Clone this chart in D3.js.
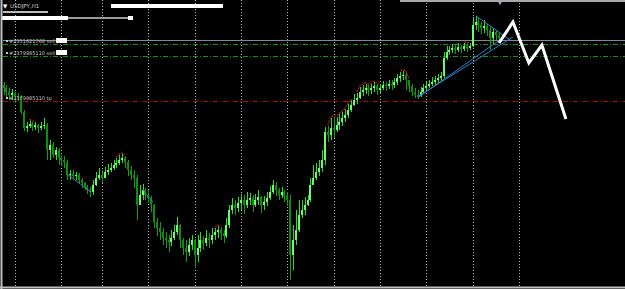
<!DOCTYPE html>
<html>
<head>
<meta charset="utf-8">
<script src="https://cdn.jsdelivr.net/npm/d3@7"></script>
<style>
  html, body { margin: 0; padding: 0; background: #000; overflow: hidden; }
</style>
</head>
<body>
<div id="chart"></div>
<script>
// USDJPY H1 candles, [open, high, low, close]
const bars = [
  [151.05,151.08,150.95,151.02],[151.02,151.05,150.93,150.98],[150.98,151.02,150.90,150.95],[150.95,151.01,150.90,150.97],
  [150.97,150.98,150.87,150.94],[150.94,150.97,150.89,150.93],[150.93,150.95,150.76,150.78],[150.78,150.80,150.59,150.62],
  [150.62,150.68,150.58,150.64],[150.64,150.70,150.62,150.66],[150.66,150.68,150.59,150.63],[150.63,150.68,150.60,150.65],
  [150.65,150.66,150.57,150.62],[150.62,150.68,150.60,150.64],[150.64,150.72,150.61,150.65],[150.65,150.67,150.30,150.40],
  [150.40,150.50,150.30,150.45],[150.45,150.48,150.32,150.35],[150.35,150.43,150.30,150.40],[150.40,150.42,150.25,150.32],
  [150.32,150.35,150.24,150.30],[150.30,150.34,150.22,150.28],[150.28,150.30,150.10,150.15],[150.15,150.20,150.10,150.16],
  [150.16,150.20,150.11,150.14],[150.14,150.18,150.10,150.15],[150.15,150.17,150.06,150.10],[150.10,150.12,150.02,150.07],
  [150.07,150.08,150.00,150.03],[150.03,150.05,149.96,150.00],[150.00,150.03,149.93,149.98],[149.98,150.10,149.95,150.05],
  [150.05,150.18,150.04,150.12],[150.12,150.22,150.10,150.15],[150.15,150.20,150.07,150.12],[150.12,150.23,150.12,150.18],
  [150.18,150.26,150.15,150.20],[150.20,150.27,150.18,150.22],[150.22,150.30,150.20,150.25],[150.25,150.32,150.22,150.27],
  [150.27,150.35,150.25,150.30],[150.30,150.36,150.27,150.32],[150.32,150.34,150.22,150.28],[150.28,150.30,150.14,150.20],
  [150.20,150.24,150.10,150.15],[150.15,150.20,150.02,150.12],[150.12,150.15,149.70,149.85],[149.85,150.05,149.85,149.95],
  [149.95,150.06,149.90,150.00],[150.00,150.02,149.90,149.95],[149.95,150.00,149.87,149.92],[149.92,149.94,149.78,149.85],
  [149.85,149.86,149.62,149.68],[149.68,149.72,149.54,149.62],[149.62,149.68,149.50,149.58],[149.58,149.62,149.45,149.52],
  [149.52,149.58,149.42,149.50],[149.50,149.55,149.38,149.48],[149.48,149.60,149.44,149.52],[149.52,149.65,149.50,149.58],
  [149.58,149.73,149.55,149.65],[149.65,149.66,149.42,149.50],[149.50,149.52,149.35,149.42],[149.42,149.50,149.28,149.38],
  [149.38,149.52,149.34,149.45],[149.45,149.55,149.40,149.50],[149.50,149.51,149.22,149.35],[149.35,149.55,149.28,149.42],
  [149.42,149.58,149.38,149.50],[149.50,149.54,149.40,149.47],[149.47,149.60,149.44,149.52],[149.52,149.57,149.42,149.50],
  [149.50,149.62,149.46,149.55],[149.55,149.62,149.50,149.58],[149.58,149.64,149.52,149.60],[149.60,149.63,149.50,149.57],
  [149.57,149.60,149.47,149.54],[149.54,149.72,149.52,149.65],[149.65,149.85,149.62,149.80],[149.80,149.92,149.76,149.85],
  [149.85,149.90,149.75,149.82],[149.82,149.93,149.78,149.87],[149.87,149.96,149.80,149.90],[149.90,149.95,149.76,149.85],
  [149.85,149.98,149.82,149.90],[149.90,149.97,149.85,149.92],[149.92,149.95,149.78,149.85],[149.85,149.96,149.83,149.90],
  [149.90,150.00,149.85,149.93],[149.93,149.94,149.77,149.85],[149.85,149.94,149.80,149.88],[149.88,149.98,149.84,149.92],
  [149.92,150.04,149.90,149.98],[149.98,150.10,149.96,150.05],[150.05,150.08,149.94,150.00],[150.00,150.02,149.90,149.95],
  [149.95,150.03,149.92,149.98],[149.98,150.00,149.88,149.94],[149.94,149.98,149.84,149.90],[149.90,149.95,149.10,149.35],
  [149.35,149.65,149.20,149.50],[149.50,149.80,149.45,149.60],[149.60,149.90,149.58,149.75],[149.75,149.90,149.72,149.80],
  [149.80,149.93,149.75,149.85],[149.85,149.95,149.84,149.90],[149.90,150.12,149.88,150.05],[150.05,150.25,150.05,150.12],
  [150.12,150.27,150.10,150.18],[150.18,150.30,150.14,150.22],[150.22,150.40,150.18,150.30],[150.30,150.63,150.25,150.58],
  [150.58,150.64,150.48,150.55],[150.55,150.72,150.50,150.62],[150.62,150.73,150.52,150.60],[150.60,150.73,150.58,150.65],
  [150.65,150.76,150.60,150.68],[150.68,150.78,150.64,150.72],[150.72,150.81,150.68,150.75],[150.75,150.86,150.72,150.80],
  [150.80,150.90,150.78,150.85],[150.85,150.96,150.84,150.90],[150.90,150.97,150.86,150.92],[150.92,151.03,150.91,150.98],
  [150.98,151.05,150.94,151.00],[151.00,151.06,150.96,151.02],[151.02,151.05,150.94,151.00],[151.00,151.06,150.96,151.02],
  [151.02,151.08,150.98,151.04],[151.04,151.06,150.95,151.00],[151.00,151.06,150.96,151.02],[151.02,151.09,151.00,151.05],
  [151.05,151.08,150.99,151.04],[151.04,151.10,151.01,151.06],[151.06,151.10,151.00,151.05],[151.05,151.12,151.02,151.08],
  [151.08,151.16,151.05,151.12],[151.12,151.18,151.08,151.14],[151.14,151.19,151.10,151.15],[151.15,151.18,151.00,151.10],
  [151.10,151.10,150.98,151.04],[151.04,151.06,150.94,150.98],[150.98,151.02,150.92,150.95],[150.95,151.00,150.91,150.94],
  [150.94,151.03,150.93,150.98],[150.98,151.06,150.96,151.02],[151.02,151.08,150.99,151.04],[151.04,151.10,151.02,151.06],
  [151.06,151.13,151.04,151.08],[151.08,151.14,151.05,151.10],[151.10,151.16,151.07,151.12],[151.12,151.18,151.09,151.14],
  [151.14,151.38,151.12,151.32],[151.32,151.44,151.30,151.38],[151.38,151.44,151.35,151.40],[151.40,151.46,151.37,151.42],
  [151.42,151.45,151.36,151.40],[151.40,151.47,151.38,151.43],[151.43,151.45,151.37,151.41],[151.41,151.47,151.39,151.44],
  [151.44,151.46,151.38,151.42],[151.42,151.47,151.40,151.44],[151.44,151.73,151.43,151.65],[151.65,151.74,151.60,151.68],
  [151.68,151.72,151.58,151.65],[151.65,151.68,151.56,151.62],[151.62,151.70,151.57,151.64],[151.64,151.66,151.54,151.60],
  [151.60,151.64,151.40,151.52],[151.52,151.62,151.45,151.58],[151.58,151.60,151.50,151.55],[151.55,151.58,151.47,151.52]
];

// bar index where each vertical grid (period separator) is drawn
const gridBars = [4, 20, 34, 50, 66, 82, 98, 114, 130, 146, 162, 178];

// order lines
const orderPrices = [151.50, 151.46, 151.34, 150.89];
const orderLabels = ["#2351621768 sell", "", "#2379985110 sell", "#2379985110 tp"];

// trendlines drawn by hand, [barIndex, price] pairs
const trendLines = [
  [[142.8, 150.93], [175.9, 151.53]],
  [[143.4, 150.93], [172.8, 151.53]],
  [[163.2, 151.74], [174.9, 151.50]],
  [[22.3, 150.15], [30.3, 149.98]],
  [[48.2, 150.00], [51.6, 149.88]]
];

// short red marks along the highs (bar index ranges)
const highMarks = [[9, 11], [39, 42], [73, 75], [112, 120], [122, 130], [137, 140], [159, 161]];

// projected path (white zigzag)
const projIdx = [171.1, 175.9, 181.4, 185.9, 194.2];
const projPrice = [151.47, 151.68, 151.27, 151.45, 150.71];

const width = 625, height = 289;
const svg = d3.select("#chart").append("svg")
    .attr("width", width)
    .attr("height", height)
    .style("display", "block")
    .style("background", "#000");

const x = d3.scaleLinear().domain([0, 178]).range([3.5, 519]);
const y = d3.scaleLinear().domain([149.03, 151.90]).range([287, 0]);

// vertical grid
svg.append("g").selectAll("line")
    .data(gridBars)
    .join("line")
    .attr("x1", d => Math.round(x(d)) + 0.5)
    .attr("x2", d => Math.round(x(d)) + 0.5)
    .attr("y1", 0)
    .attr("y2", 287)
    .attr("stroke", "#b8b8b8")
    .attr("stroke-width", 1)
    .attr("stroke-dasharray", "1,2");

// order levels
const levelStyle = [
  { color: "#7d8b9c", dash: null },
  { color: "#0a9a0a", dash: "5,2,1,2" },
  { color: "#0a9a0a", dash: "5,2,1,2" },
  { color: "#a81010", dash: "5,2,1,2" }
];
svg.append("g").selectAll("line")
    .data(orderPrices)
    .join("line")
    .attr("x1", 3)
    .attr("x2", width)
    .attr("y1", d => Math.round(y(d)) + 0.5)
    .attr("y2", d => Math.round(y(d)) + 0.5)
    .attr("stroke", (d, i) => levelStyle[i].color)
    .attr("stroke-width", 1)
    .attr("stroke-dasharray", (d, i) => levelStyle[i].dash);

// candles
const candles = svg.append("g").attr("shape-rendering", "crispEdges");
candles.selectAll("line")
    .data(bars)
    .join("line")
    .attr("x1", (d, i) => Math.round(x(i)) + 0.5)
    .attr("x2", (d, i) => Math.round(x(i)) + 0.5)
    .attr("y1", d => y(d[1]))
    .attr("y2", d => y(d[2]))
    .attr("stroke", d => d[3] >= d[0] ? "#22e022" : "#0fa00f");
candles.selectAll("rect")
    .data(bars)
    .join("rect")
    .attr("x", (d, i) => Math.round(x(i)) - 1)
    .attr("width", 2)
    .attr("y", d => y(Math.max(d[0], d[3])))
    .attr("height", d => Math.max(1, Math.abs(y(d[0]) - y(d[3]))))
    .attr("fill", d => d[3] >= d[0] ? "#66ff66" : "#0b900b");

// red marks along highs
const highLine = d3.line()
    .x(i => x(i))
    .y(i => y(bars[i][1]) - 1);
svg.append("g").selectAll("path")
    .data(highMarks)
    .join("path")
    .attr("d", r => highLine(d3.range(r[0], r[1] + 1)))
    .attr("fill", "none")
    .attr("stroke", "#c81414")
    .attr("stroke-width", 1.2)
    .attr("stroke-dasharray", "2,1");

// trendlines
svg.append("g").selectAll("line")
    .data(trendLines)
    .join("line")
    .attr("x1", d => x(d[0][0]))
    .attr("y1", d => y(d[0][1]))
    .attr("x2", d => x(d[1][0]))
    .attr("y2", d => y(d[1][1]))
    .attr("stroke", "#2f7fd0")
    .attr("stroke-width", 1);

// projection zigzag
const proj = projIdx.map((d, i) => [d, projPrice[i]]);
svg.append("path")
    .datum(proj)
    .attr("d", d3.line().x(d => x(d[0])).y(d => y(d[1])))
    .attr("fill", "none")
    .attr("stroke", "#ffffff")
    .attr("stroke-width", 3)
    .attr("stroke-linejoin", "miter");

// order labels
const labels = svg.append("g")
    .style("font-family", "'DejaVu Sans', sans-serif")
    .style("font-size", "5px")
    .attr("fill", "#c8c8c8");
orderPrices.forEach((p, i) => {
  if (!orderLabels[i]) return;
  const ly = i === 0 ? y(p) + 2.5 : y(p) - 1.5;
  labels.append("rect").attr("x", 6).attr("y", ly - 2.5).attr("width", 2).attr("height", 2).attr("fill", "#c8c8c8");
  const t = labels.append("text").attr("x", 9).attr("y", ly).text(orderLabels[i]);
  if (i < 3) {
    const w = t.node().getComputedTextLength();
    labels.append("rect").attr("x", 9 + w + 1).attr("y", ly - 4.5).attr("width", 11).attr("height", 5).attr("fill", "#fff");
  }
});

// header
const head = svg.append("g")
    .style("font-family", "'DejaVu Sans', sans-serif")
    .style("font-size", "5.5px");
head.append("text").attr("x", 3).attr("y", 8).attr("fill", "#ffffff").text("▼");
head.append("text").attr("x", 10).attr("y", 8).attr("fill", "#d0d0d0").text("USDJPY,H1");
head.append("rect").attr("x", 111).attr("y", 4).attr("width", 112).attr("height", 4).attr("fill", "#fff");
head.append("rect").attr("x", 3).attr("y", 11).attr("width", 45).attr("height", 2).attr("fill", "#bdbdbd");
head.append("rect").attr("x", 2).attr("y", 16).attr("width", 66).attr("height", 4).attr("fill", "#fff");
head.append("rect").attr("x", 68).attr("y", 17).attr("width", 61).attr("height", 2).attr("fill", "#9a9a9a");
head.append("rect").attr("x", 128).attr("y", 16).attr("width", 5).attr("height", 4).attr("fill", "#fff");

// frame
svg.append("line").attr("x1", 1.5).attr("x2", 1.5).attr("y1", 0).attr("y2", 289)
    .attr("stroke", "#c0c0c0").attr("stroke-width", 2);
svg.append("line").attr("x1", 0).attr("x2", width).attr("y1", 287.5).attr("y2", 287.5)
    .attr("stroke", "#c0c0c0").attr("stroke-width", 2);
svg.append("line").attr("x1", 400).attr("x2", width).attr("y1", 1).attr("y2", 1)
    .attr("stroke", "#a8a8a8").attr("stroke-width", 2);
svg.append("path")
    .attr("d", d3.symbol(d3.symbolTriangle, 14)())
    .attr("transform", "translate(500,2) rotate(180)")
    .attr("fill", "#a0a8b8");
</script>
</body>
</html>
